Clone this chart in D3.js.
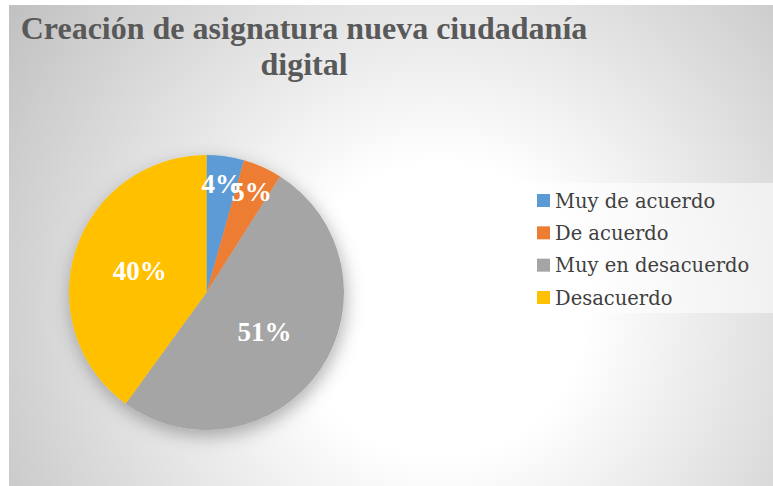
<html>
<head>
  <script src="https://d3js.org/d3.v7.min.js"></script>
  <style>
    body { margin: 0; background: #fff; }
  </style>
</head>
<body>
  <svg id="chart" width="773" height="486"></svg>
  <script>
    // data
    const categories = ["Muy de acuerdo", "De acuerdo", "Muy en desacuerdo", "Desacuerdo"];
    const values = [4.4, 4.6, 51, 40];
    const colors = ["#5b9bd5", "#ed7d31", "#a5a5a5", "#ffc000"];
    const titleLines = ["Creación de asignatura nueva ciudadanía", "digital"];

    const svg = d3.select("svg#chart");
    const width = +svg.attr("width");
    const height = +svg.attr("height");

    const defs = svg.append("defs");
    const grad = defs.append("radialGradient")
      .attr("id", "bg")
      .attr("gradientUnits", "userSpaceOnUse")
      .attr("cx", 440).attr("cy", 310).attr("r", 520);
    grad.append("stop").attr("offset", "0").attr("stop-color", "#ffffff");
    grad.append("stop").attr("offset", "0.28").attr("stop-color", "#ffffff");
    grad.append("stop").attr("offset", "1").attr("stop-color", "#c2c2c2");

    const shadow = defs.append("filter").attr("id", "shadow")
      .attr("x", "-30%").attr("y", "-30%").attr("width", "160%").attr("height", "160%");
    shadow.append("feDropShadow")
      .attr("dx", 2).attr("dy", 6).attr("stdDeviation", 9)
      .attr("flood-color", "#000").attr("flood-opacity", 0.3);

    // chart area
    svg.append("rect")
      .attr("x", 9).attr("y", 5)
      .attr("width", width - 9).attr("height", height - 5)
      .attr("fill", "url(#bg)");

    // title
    svg.append("g").selectAll("text")
      .data(titleLines)
      .enter().append("text")
      .attr("x", 304)
      .attr("y", (d, i) => 39 + i * 36)
      .attr("text-anchor", "middle")
      .style("font-family", "'Liberation Serif', serif")
      .style("font-weight", "bold")
      .style("font-size", "32px")
      .style("fill", "#595959")
      .text(d => d);

    // pie
    const cx = 206.5, cy = 292.5, radius = 137.5;
    const data = categories.map((c, i) => ({ name: c, value: values[i], color: colors[i] }));
    const pie = d3.pie().sort(null).value(d => d.value);
    const arcs = pie(data);
    const arcGen = d3.arc().innerRadius(0).outerRadius(radius);

    const pieG = svg.append("g").attr("transform", `translate(${cx},${cy})`);
    pieG.append("g").attr("filter", "url(#shadow)")
      .selectAll("path")
      .data(arcs)
      .enter().append("path")
      .attr("d", arcGen)
      .attr("fill", d => d.data.color);

    pieG.selectAll(".lbl")
      .data(arcs)
      .enter().append("text")
      .attr("class", "lbl")
      .attr("transform", d => {
        const small = (d.endAngle - d.startAngle) < 0.5;
        const r = small ? radius * 0.8 : radius * 0.51;
        const a = (d.startAngle + d.endAngle) / 2;
        return `translate(${Math.sin(a) * r},${-Math.cos(a) * r})`;
      })
      .attr("dy", "0.34em")
      .attr("text-anchor", "middle")
      .style("font-family", "'Liberation Serif', serif")
      .style("font-weight", "bold")
      .style("font-size", "27px")
      .style("fill", "#ffffff")
      .text(d => Math.round(d.data.value) + "%");

    // legend
    const legend = svg.append("g");
    legend.append("rect")
      .attr("x", 511).attr("y", 183)
      .attr("width", width - 511).attr("height", 130)
      .attr("fill", "#ffffff").attr("fill-opacity", 0.55);

    const rowY = d3.scalePoint().domain(categories).range([200.5, 297.5]);
    const items = legend.selectAll(".item")
      .data(data)
      .enter().append("g")
      .attr("class", "item")
      .attr("transform", d => `translate(537,${rowY(d.name)})`);
    items.append("rect")
      .attr("x", 0).attr("y", -6.5)
      .attr("width", 13).attr("height", 13)
      .attr("fill", d => d.color);
    items.append("text")
      .attr("x", 18).attr("dy", "0.36em")
      .style("font-family", "'DejaVu Serif', serif")
      .style("font-size", "19.5px")
      .style("fill", "#404040")
      .text(d => d.name);
  </script>
</body>
</html>
